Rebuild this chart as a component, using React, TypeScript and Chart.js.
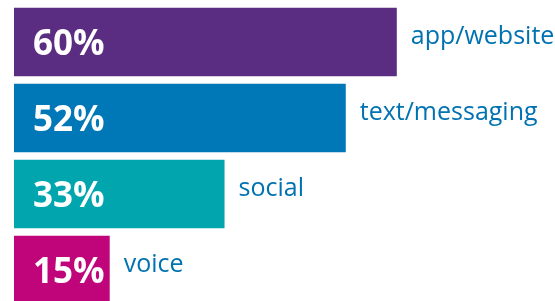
import React, { useEffect, useRef } from "react";
import { Chart, registerables } from "chart.js";
Chart.register(...registerables);

const categories = ["app/website", "text/messaging", "social", "voice"];
const values = [60, 52, 33, 15];
const valueLabels = ["60%", "52%", "33%", "15%"];
const barColors = ["#5a2d82", "#0077b6", "#00a5ad", "#c0047a"];

export default function App() {
  const ref = useRef<HTMLCanvasElement>(null);
  useEffect(() => {
    document.body.style.margin = "0";
    const labelPlugin = {
      id: "barLabels",
      afterDatasetsDraw(chart: any) {
        const ctx = chart.ctx;
        const meta = chart.getDatasetMeta(0);
        meta.data.forEach((bar: any, i: number) => {
          const { x, y, base } = bar.getProps(["x", "y", "base"], true);
          ctx.save();
          ctx.textBaseline = "alphabetic";
          ctx.textAlign = "left";
          ctx.fillStyle = "#ffffff";
          ctx.font = "700 35px 'Open Sans'";
          ctx.fillText(valueLabels[i], base + 19, y + 12.5);
          ctx.fillStyle = "#0072b2";
          ctx.font = "400 25px 'Open Sans'";
          ctx.fillText(categories[i], x + 14, y + 2);
          ctx.restore();
        });
      },
    };
    const chart = new Chart(ref.current!, {
      type: "bar",
      data: {
        labels: categories,
        datasets: [
          {
            data: values,
            backgroundColor: barColors,
            borderWidth: 0,
            barPercentage: 0.9,
            categoryPercentage: 1,
          },
        ],
      },
      options: {
        indexAxis: "y",
        animation: false,
        responsive: false,
        layout: { padding: { left: 14, right: 0, top: 4, bottom: 4 } },
        plugins: { legend: { display: false }, tooltip: { enabled: false } },
        scales: {
          x: { display: false, min: 0, max: 100 },
          y: { display: false },
        },
      },
      plugins: [labelPlugin],
    });
    return () => chart.destroy();
  }, []);
  return (
    <div style={{ position: "absolute", left: 0, top: 0, width: 555, height: 301, overflow: "hidden", background: "#fff" }}>
      <canvas ref={ref} width={652} height={312} style={{ display: "block" }} />
    </div>
  );
}
